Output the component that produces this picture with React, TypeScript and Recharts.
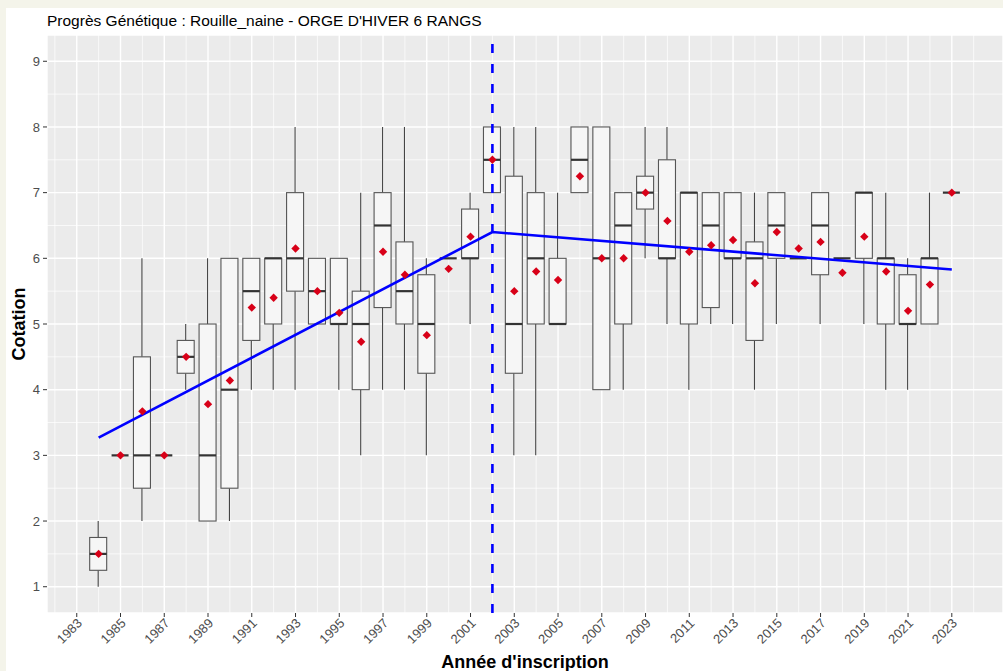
import React from 'react';
import {
  ComposedChart,
  Bar,
  Scatter,
  XAxis,
  YAxis,
  CartesianGrid,
  ReferenceLine,
} from 'recharts';

// one entry per registration year (1984 -> 2023)
const years = [
  1984, 1985, 1986, 1987, 1988, 1989, 1990, 1991, 1992, 1993,
  1994, 1995, 1996, 1997, 1998, 1999, 2000, 2001, 2002, 2003,
  2004, 2005, 2006, 2007, 2008, 2009, 2010, 2011, 2012, 2013,
  2014, 2015, 2016, 2017, 2018, 2019, 2020, 2021, 2022, 2023,
];
const mins = [
  1, 3, 2, 3, 4, 2, 2, 4, 4, 4,
  5, 4, 3, 4, 4, 3, 6, 5, 7, 3,
  3, 5, 7, 4, 4, 6, 5, 4, 5, 5,
  4, 5, 6, 5, 6, 5, 4, 4, 5, 7,
];
const q1s = [
  1.25, 3, 2.5, 3, 4.25, 2, 2.5, 4.75, 5, 5.5,
  5, 5, 4, 5.25, 5, 4.25, 6, 6, 7, 4.25,
  5, 5, 7, 4, 5, 6.75, 6, 5, 5.25, 6,
  4.75, 6, 6, 5.75, 6, 6, 5, 5, 5, 7,
];
const medians = [
  1.5, 3, 3, 3, 4.5, 3, 4, 5.5, 6, 6,
  5.5, 5, 5, 6.5, 5.5, 5, 6, 6, 7.5, 5,
  6, 5, 7.5, 6, 6.5, 7, 6, 7, 6.5, 6,
  6, 6.5, 6, 6.5, 6, 7, 6, 5, 6, 7,
];
const q3s = [
  1.75, 3, 4.5, 3, 4.75, 5, 6, 6, 6, 7,
  6, 6, 5.5, 7, 6.25, 5.75, 6, 6.75, 8, 7.25,
  7, 6, 8, 8, 7, 7.25, 7.5, 7, 7, 7,
  6.25, 7, 6, 7, 6, 7, 6, 5.75, 6, 7,
];
const maxs = [
  2, 3, 6, 3, 5, 6, 6, 6, 6, 8,
  6, 6, 7, 8, 8, 6, 6, 7, 8, 8,
  8, 7, 8, 8, 7, 8, 8, 7, 7, 7,
  7, 7, 6, 7, 6, 7, 7, 6, 7, 7,
];
const means = [
  1.5, 3, 3.67, 3, 4.5, 3.78, 4.14, 5.25, 5.4, 6.15,
  5.5, 5.17, 4.73, 6.1, 5.75, 4.83, 5.84, 6.33, 7.5, 5.5,
  5.8, 5.67, 7.25, 6, 6, 7, 6.57, 6.1, 6.2, 6.28,
  5.62, 6.4, 6.15, 6.25, 5.78, 6.33, 5.8, 5.2, 5.6, 7,
];

// segmented regression, break at 2002
const fitYears = [1984, 2002, 2023];
const fitValues = [3.27, 6.4, 5.83];
const breakYear = 2002;

const xTicks = [
  1983, 1985, 1987, 1989, 1991, 1993, 1995, 1997, 1999, 2001, 2003,
  2005, 2007, 2009, 2011, 2013, 2015, 2017, 2019, 2021, 2023,
];
const xMinor = [
  1982, 1984, 1986, 1988, 1990, 1992, 1994, 1996, 1998, 2000, 2002,
  2004, 2006, 2008, 2010, 2012, 2014, 2016, 2018, 2020, 2022, 2024,
];
const yTicks = [1, 2, 3, 4, 5, 6, 7, 8, 9];
const yMinor = [1.5, 2.5, 3.5, 4.5, 5.5, 6.5, 7.5, 8.5];

const boxRows = years.map((year, i) => ({
  year,
  range: [mins[i], maxs[i]],
  min: mins[i],
  q1: q1s[i],
  med: medians[i],
  q3: q3s[i],
  max: maxs[i],
}));
const meanRows = years.map((year, i) => ({ year, mean: means[i] }));
const fitRows = fitYears.map((year, i) => ({ year, fit: fitValues[i] }));

const FONT = '"Liberation Sans", Arial, Helvetica, sans-serif';

const BoxShape = (props: any) => {
  const { x, y, width, height, payload } = props;
  if (x == null || y == null || !payload) return null;
  const top = Math.min(y, y + (height || 0));
  const h = Math.abs(height || 0);
  const span = payload.max - payload.min;
  const py = (v: number) => (span === 0 ? top : top + ((payload.max - v) / span) * h);
  const cx = x + width / 2;
  return (
    <g>
      <line x1={cx} x2={cx} y1={py(payload.max)} y2={py(payload.q3)} stroke='#444' strokeWidth={1.1} />
      <line x1={cx} x2={cx} y1={py(payload.q1)} y2={py(payload.min)} stroke='#444' strokeWidth={1.1} />
      <rect
        x={x}
        y={py(payload.q3)}
        width={width}
        height={py(payload.q1) - py(payload.q3)}
        fill='#F6F6F6'
        stroke='#555'
        strokeWidth={1.1}
      />
      <line x1={x} x2={x + width} y1={py(payload.med)} y2={py(payload.med)} stroke='#333' strokeWidth={2.2} />
    </g>
  );
};

const Diamond = (props: any) => {
  const { cx, cy } = props;
  if (cx == null || cy == null) return null;
  const r = 4.2;
  return (
    <polygon
      points={`${cx},${cy - r} ${cx + r},${cy} ${cx},${cy + r} ${cx - r},${cy}`}
      fill='#D80018'
    />
  );
};

const XTick = (props: any) => {
  const { x, y, payload } = props;
  const ax = x + 6;
  const ay = y + 5;
  return (
    <text
      x={ax}
      y={ay}
      transform={`rotate(-45, ${ax}, ${ay})`}
      textAnchor='end'
      fontSize={13}
      fill='#4D4D4D'
      fontFamily={FONT}
    >
      {payload.value}
    </text>
  );
};

const App: React.FC = () => {
  return (
    <div
      style={{
        position: 'fixed',
        left: 0,
        top: 0,
        width: 1003,
        height: 671,
        background: '#F4F4EA',
        fontFamily: FONT,
      }}
    >
      <div
        style={{
          position: 'absolute',
          left: 6,
          top: 8,
          width: 997,
          height: 663,
          background: '#FFFFFF',
        }}
      >
        <div
          style={{
            position: 'absolute',
            left: 41,
            top: 4,
            fontSize: 15.5,
            color: '#000',
            whiteSpace: 'nowrap',
          }}
        >
          Progrès Génétique : Rouille_naine - ORGE D'HIVER 6 RANGS
        </div>
        <ComposedChart
          width={997}
          height={663}
          data={boxRows}
          margin={{ top: 27, right: 0, bottom: 0, left: 0 }}
        >
          <CartesianGrid
            fill='#EBEBEB'
            stroke='#FFFFFF'
            strokeWidth={0.7}
            horizontalValues={yMinor}
            verticalValues={xMinor}
          />
          <CartesianGrid stroke='#FFFFFF' strokeWidth={1.4} />
          <XAxis
            dataKey='year'
            type='number'
            domain={[1981.64, 2025.34]}
            allowDataOverflow
            ticks={xTicks}
            interval={0}
            height={58}
            axisLine={false}
            tickSize={4}
            tickLine={{ stroke: '#333', strokeWidth: 1 }}
            tick={<XTick />}
            label={{
              value: "Année d'inscription",
              position: 'insideBottom',
              offset: 3,
              fontSize: 18,
              fontWeight: 'bold',
              fill: '#000',
              fontFamily: FONT,
            }}
          />
          <YAxis
            type='number'
            domain={[0.6, 9.4]}
            allowDataOverflow
            ticks={yTicks}
            width={41}
            axisLine={false}
            tickSize={4}
            tickMargin={3}
            tickLine={{ stroke: '#333', strokeWidth: 1 }}
            tick={{ fontSize: 13, fill: '#4D4D4D', fontFamily: FONT }}
            label={{
              value: 'Cotation',
              angle: -90,
              position: 'insideLeft',
              offset: 13,
              style: { textAnchor: 'middle' },
              fontSize: 18,
              fontWeight: 'bold',
              fill: '#000',
              fontFamily: FONT,
            }}
          />
          <Bar dataKey='range' barSize={17} shape={<BoxShape />} isAnimationActive={false} />
          <Scatter data={fitRows} dataKey='fit' line={{ stroke: '#0000FF', strokeWidth: 2.6 }} shape={() => <g />} isAnimationActive={false} />
          <Scatter data={meanRows} dataKey='mean' shape={<Diamond />} isAnimationActive={false} />
          <ReferenceLine x={breakYear} stroke='#0000FF' strokeWidth={2.6} strokeDasharray='9 11' />
        </ComposedChart>
      </div>
    </div>
  );
};

export default App;
